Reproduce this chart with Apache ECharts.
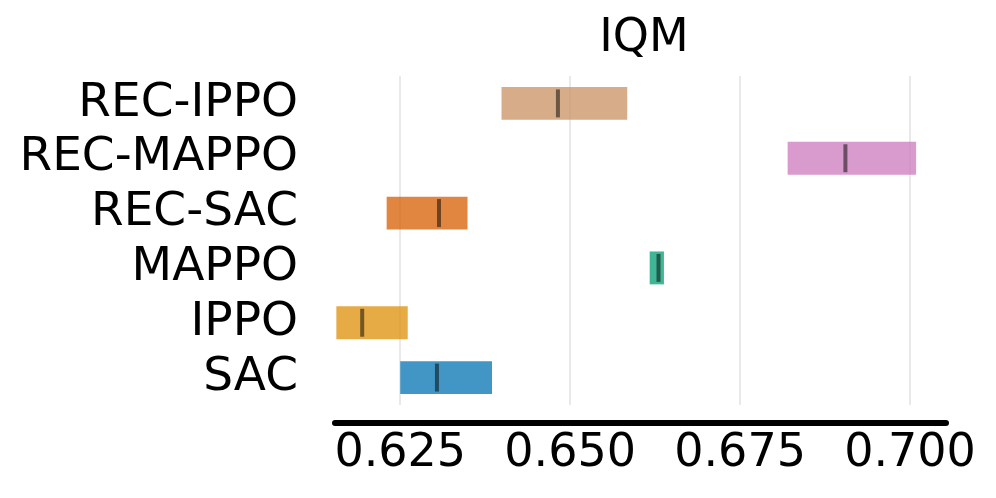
<!DOCTYPE html>
<html>
<head>
<meta charset="utf-8">
<script src="https://cdn.jsdelivr.net/npm/echarts@6/dist/echarts.min.js"></script>
<style>html,body{margin:0;padding:0;background:#fff}#c{width:996px;height:498px}</style>
</head>
<body>
<div id="c"></div>
<script>
const categories = ['REC-IPPO', 'REC-MAPPO', 'REC-SAC', 'MAPPO', 'IPPO', 'SAC'];
const lowValues = [0.6399, 0.6820, 0.6230, 0.6617, 0.6156, 0.6250];
const highValues = [0.6584, 0.7009, 0.6349, 0.6638, 0.6261, 0.6385];
const medianValues = [0.6482, 0.6905, 0.6307, 0.6630, 0.6194, 0.6304];
const colors = ['#ca9161', '#cc78bc', '#d55e00', '#029e73', '#de8f05', '#0173b2'];
const xTicks = [0.625, 0.650, 0.675, 0.700];

const data = categories.map((c, i) => [lowValues[i], highValues[i], medianValues[i], i]);
const FONT = 'DejaVu Sans';

const chart = echarts.init(document.getElementById('c'), null, {renderer: 'canvas'});
chart.setOption({
  animation: false,
  backgroundColor: '#ffffff',
  title: {
    text: 'IQM', left: 639, top: 11, textAlign: 'center',
    textStyle: {fontFamily: FONT, fontSize: 46, fontWeight: 'normal', color: '#000'}
  },
  grid: {left: 335, right: 50, top: 76, bottom: 93},
  xAxis: {
    type: 'value', min: 0.6154, max: 0.7053, offset: 18,
    axisLine: {show: true, lineStyle: {color: '#000', width: 6}},
    axisTick: {show: false, customValues: xTicks},
    axisLabel: {
      customValues: xTicks, margin: 8,
      fontFamily: FONT, fontSize: 46, color: '#000',
      formatter: v => v.toFixed(3)
    },
    splitLine: {show: true, lineStyle: {color: '#e9e9e9', width: 2}}
  },
  yAxis: {
    type: 'category', data: categories, inverse: true,
    axisLine: {show: false}, axisTick: {show: false},
    axisLabel: {interval: 0, margin: 37, fontFamily: FONT, fontSize: 47, color: '#000'},
    splitLine: {show: false}
  },
  series: [{
    type: 'custom',
    data: data,
    encode: {x: [0, 1, 2], y: 3},
    renderItem: function (params, api) {
      const yi = api.value(3);
      const p1 = api.coord([api.value(0), yi]);
      const p2 = api.coord([api.value(1), yi]);
      const pm = api.coord([api.value(2), yi]);
      const band = api.size([0, 1])[1];
      const h = band * 0.6;
      const mh = band * 0.51;
      return {
        type: 'group',
        children: [{
          type: 'rect',
          shape: {x: p1[0], y: p1[1] - h / 2, width: p2[0] - p1[0], height: h},
          style: {fill: colors[params.dataIndex], opacity: 0.75}
        }, {
          type: 'rect',
          shape: {x: pm[0] - 2, y: pm[1] - mh / 2, width: 4, height: mh},
          style: {fill: 'rgba(0,0,0,0.5)'}
        }]
      };
    }
  }]
});
</script>
</body>
</html>
